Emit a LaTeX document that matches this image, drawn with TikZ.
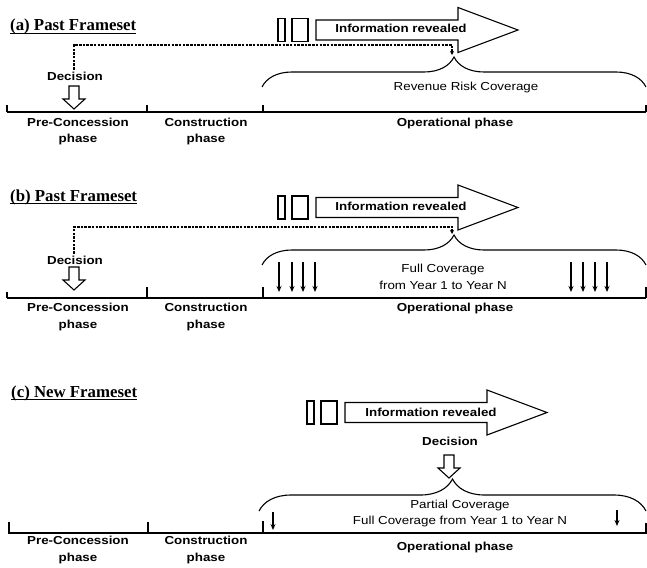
\documentclass[tikz,border=0pt]{standalone}
\usepackage{fontspec}
\setmainfont{Liberation Sans}
\newfontfamily\ttlfont{Liberation Serif}
\newfontfamily\lblfont[FakeStretch=1.15]{Liberation Sans}
\usetikzlibrary{decorations.pathreplacing,arrows.meta}
\tikzset{
  lab/.style={font=\lblfont\fontsize{11.6}{17}\selectfont\bfseries, inner sep=0pt, align=center},
  txt/.style={font=\lblfont\fontsize{11.6}{16.5}\selectfont, inner sep=0pt, align=center},
  ttl/.style={font=\ttlfont\fontsize{16.8}{17}\selectfont\bfseries, inner sep=0pt, anchor=base west},
  tl/.style={line width=1.8pt},
  tk/.style={line width=1.1pt},
  brc/.style={line width=1.1pt, decorate, decoration={brace, amplitude=#1}},
  dsh/.style={line width=1.2pt, dash pattern=on 2.5pt off 1.2pt},
  box/.style={line width=1.1pt, fill=white},
  sarr/.style={line width=1.2pt, -{Stealth[length=6pt,width=5pt]}},
  ulin/.style={line width=1.1pt}
}
\newcommand\hollowdown[4]{% cx, top, headstart, tip
  \draw[box] (#1-5,#2) -- (#1+5,#2) -- (#1+5,#3) -- (#1+11,#3) -- (#1,#4) -- (#1-11,#3) -- (#1-5,#3) -- cycle;}
\newcommand\infoarrow[2]{% x offset, center y
  \draw[box] (278+#1,#2-11.5) rectangle (285+#1,#2+11.5);
  \draw[box] (292+#1,#2-11.5) rectangle (308+#1,#2+11.5);
  \draw[box] (316+#1,#2-10) -- (458+#1,#2-10) -- (458+#1,#2-22.5) -- (518+#1,#2)
     -- (458+#1,#2+22.5) -- (458+#1,#2+10) -- (316+#1,#2+10) -- cycle;}
\begin{document}
\begin{tikzpicture}[x=1pt,y=-1pt]
\useasboundingbox[fill=white] (0,0) rectangle (647,567);

% ================= (a) =================
\node[ttl] (ta) at (10,31) {(a) Past Frameset};
\draw[ulin] ([yshift=-2.5pt]ta.base west) -- ([yshift=-2.5pt]ta.base east);

\infoarrow{0}{30}
\node[lab] (ia) at (401,28.5) {Information revealed};

\draw[tl] (7,112) -- (646,112);
\draw[tk] (7,112) -- (7,105);
\draw[tk] (147,112) -- (147,105);
\draw[tk] (263,112) -- (263,105);
\draw[tk] (646,112) -- (646,105);

\draw[brc=30pt] (262,87) -- (646,87);
\coordinate (tipA) at (452,57);
\coordinate (knA) at (452,45);
\node[txt] (rrc) at (466,88) {Revenue Risk Coverage};

\node[lab] (decA) at (75,76) {Decision};
\hollowdown{74}{86}{99}{109}
\draw[dsh,-{Stealth[length=4pt,width=4pt]}] ([yshift=2pt]decA.north -| 74,0) |- (knA) -- ([yshift=2pt]tipA);

\node[lab] (pcA) at (78,131.5) {Pre-Concession\\phase};
\node[lab] (csA) at (206,131.5) {Construction\\phase};
\node[lab] (opA) at (455,124) {Operational phase};

% ================= (b) =================
\node[ttl] (tb) at (10,201) {(b) Past Frameset};
\draw[ulin] ([yshift=-2.5pt]tb.base west) -- ([yshift=-2.5pt]tb.base east);

\infoarrow{0}{207.5}
\node[lab] (ib) at (401,206) {Information revealed};

\draw[tl] (7,298) -- (646,298);
\draw[tk] (7,298) -- (7,292);
\draw[tk] (147,298) -- (147,287);
\draw[tk] (263,298) -- (263,287);
\draw[tk] (646,298) -- (646,287);

\draw[brc=30pt] (262,265) -- (646,265);
\coordinate (tipB) at (452,235);
\coordinate (knB) at (452,227);
\node[txt] (fcb) at (443,277) {Full Coverage\\from Year 1 to Year N};

\foreach \x in {279,292,303,315,571,583,595,607}
  \draw[sarr] (\x,262) -- (\x,292);

\node[lab] (decB) at (75,260) {Decision};
\hollowdown{74}{267}{280}{290}
\draw[dsh,-{Stealth[length=4pt,width=4pt]}] ([yshift=2pt]decB.north -| 74,0) |- (knB) -- ([yshift=1pt]tipB);

\node[lab] (pcB) at (78,316.5) {Pre-Concession\\phase};
\node[lab] (csB) at (206,316.5) {Construction\\phase};
\node[lab] (opB) at (455,308) {Operational phase};

% ================= (c) =================
\node[ttl] (tc) at (11,397) {(c) New Frameset};
\draw[ulin] ([yshift=-2.5pt]tc.base west) -- ([yshift=-2.5pt]tc.base east);

\infoarrow{29}{412.5}
\node[lab] (ic) at (431,412) {Information revealed};

\node[lab] (decC) at (450,441) {Decision};
\hollowdown{449}{455}{468}{478}

\draw[tl] (8,533) -- (647,533);
\draw[tk] (9,533) -- (9,522);
\draw[tk] (148,533) -- (148,522);
\draw[tk] (263,533) -- (263,521);
\draw[tk] (646,533) -- (646,523);

\draw[brc=32pt] (259,511) -- (646,511);
\node[txt] (pcc) at (460,513.5) {Partial Coverage\\Full Coverage from Year 1 to Year N};
\draw[sarr] (273,512) -- (273,530);
\draw[sarr] (617,510) -- (617,526);

\node[lab] (pcC) at (78,550) {Pre-Concession\\phase};
\node[lab] (csC) at (206,550) {Construction\\phase};
\node[lab] (opC) at (455,547) {Operational phase};
\end{tikzpicture}
\end{document}
